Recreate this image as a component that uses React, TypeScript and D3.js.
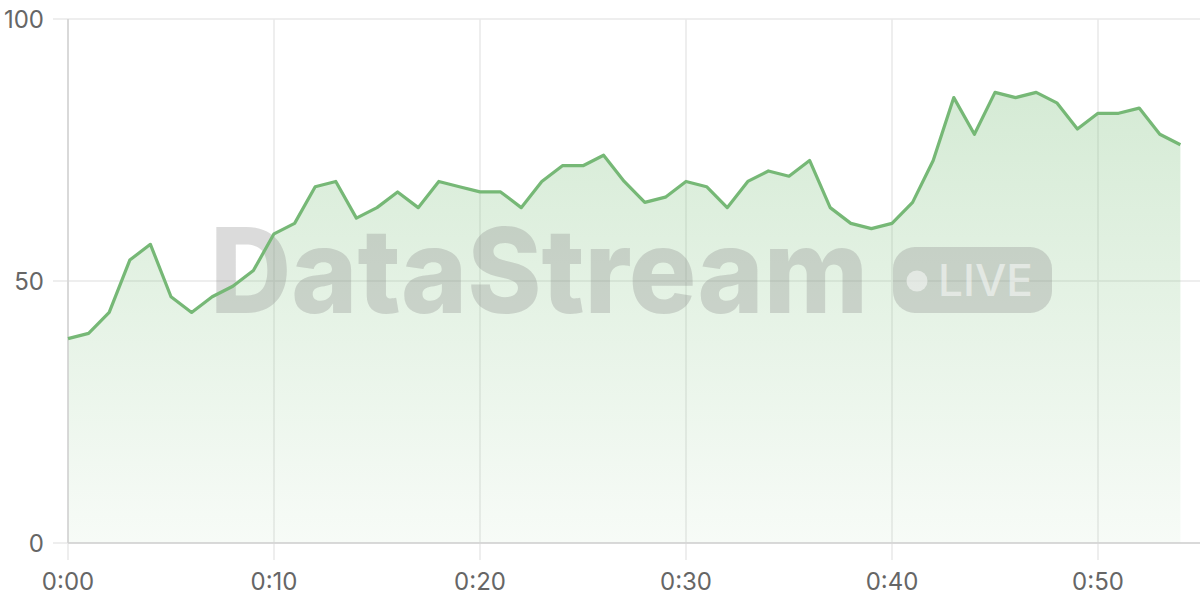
import React from 'react';
import * as d3 from 'd3';

// one reading per second, 0:00 .. 0:54
const seconds: number[] = d3.range(0, 55);
const values: number[] = [
  39, 40, 44, 54, 57, 47, 44, 47, 49, 52,
  59, 61, 68, 69, 62, 64, 67, 64, 69, 68,
  67, 67, 64, 69, 72, 72, 74, 69, 65, 66,
  69, 68, 64, 69, 71, 70, 73, 64, 61, 60,
  61, 65, 73, 85, 78, 86, 85, 86, 84, 79,
  82, 82, 83, 78, 76,
];
const xTicks: number[] = [0, 10, 20, 30, 40, 50];
const yTicks: number[] = [0, 50, 100];

const W = 1200;
const H = 600;
const left = 68;
const top = 19;
const bottom = 543;

const fmt = (s: number) => `${Math.floor(s / 60)}:${String(s % 60).padStart(2, '0')}`;

export default function App() {
  const x = d3.scaleLinear().domain([0, 55]).range([left, 1201]);
  const y = d3.scaleLinear().domain([0, 100]).range([bottom, top]);

  const pts = seconds.map((s, i) => [s, values[i]] as [number, number]);

  const area = d3
    .area<[number, number]>()
    .x((d) => x(d[0]))
    .y0(y(0))
    .y1((d) => y(d[1]));
  const line = d3
    .line<[number, number]>()
    .x((d) => x(d[0]))
    .y((d) => y(d[1]));

  const font = 'Inter, "Noto Sans", sans-serif';
  const green = '#76b876';

  return (
    <svg
      width={W}
      height={H}
      style={{ position: 'absolute', left: 0, top: 0, background: '#fff' }}
    >
      <defs>
        <linearGradient id="fill" gradientUnits="userSpaceOnUse" x1={0} y1={top} x2={0} y2={bottom}>
          <stop offset="0%" stopColor="#7bbf7b" stopOpacity={0.36} />
          <stop offset="100%" stopColor="#7bbf7b" stopOpacity={0.06} />
        </linearGradient>
      </defs>

      {/* grid */}
      {yTicks.map((t) => (
        <line key={'h' + t} x1={53} x2={W} y1={y(t)} y2={y(t)} stroke="#e8e8e8" strokeWidth={1.5} />
      ))}
      {xTicks.map((t) => (
        <line key={'v' + t} x1={x(t)} x2={x(t)} y1={top} y2={560} stroke="#e8e8e8" strokeWidth={1.5} />
      ))}

      <path d={area(pts) || ''} fill="url(#fill)" />

      {/* axes */}
      <line x1={left} x2={left} y1={top} y2={bottom} stroke="#d2d2d2" strokeWidth={1.5} />
      <line x1={left} x2={W} y1={bottom} y2={bottom} stroke="#d2d2d2" strokeWidth={1.5} />

      {/* watermark */}
      <g fill="#888" fillOpacity={0.3}>
        <text
          x={210}
          y={313}
          fontFamily={font}
          fontWeight={800}
          fontSize={118}
          textLength={658}
          lengthAdjust="spacingAndGlyphs"
        >
          DataStream
        </text>
        <rect x={893} y={247} width={159} height={66} rx={22} />
      </g>
      <g fill="#fff" fillOpacity={0.5}>
        <circle cx={917} cy={281} r={10.5} />
        <text
          x={938}
          y={296}
          fontFamily={font}
          fontWeight={500}
          fontSize={44}
          textLength={95}
          lengthAdjust="spacingAndGlyphs"
        >
          LIVE
        </text>
      </g>

      <path d={line(pts) || ''} fill="none" stroke={green} strokeWidth={3.2} strokeLinejoin="round" />

      {/* labels */}
      {yTicks.map((t) => (
        <text
          key={'yl' + t}
          x={44}
          y={y(t) + 9}
          textAnchor="end"
          fontFamily={font}
          fontSize={24}
          fill="#666"
        >
          {t}
        </text>
      ))}
      {xTicks.map((t) => (
        <text
          key={'xl' + t}
          x={x(t)}
          y={590}
          textAnchor="middle"
          fontFamily={font}
          fontSize={24}
          fill="#666"
        >
          {fmt(t)}
        </text>
      ))}
    </svg>
  );
}
